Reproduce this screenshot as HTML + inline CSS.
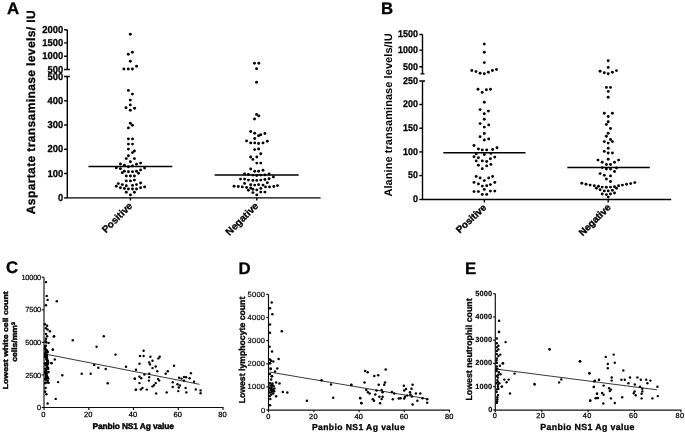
<!DOCTYPE html>
<html><head><meta charset="utf-8"><title>Figure</title>
<style>html,body{margin:0;padding:0;background:#fff;}svg{display:block;will-change:transform;filter:grayscale(1);}svg text{text-rendering:geometricPrecision;}</style>
</head><body>
<svg width="685" height="433" viewBox="0 0 685 433" font-family="Liberation Sans, sans-serif" fill="#000">
<defs><filter id="soft" x="0" y="0" width="100%" height="100%" filterUnits="userSpaceOnUse"><feGaussianBlur stdDeviation="0.4"/></filter></defs>
<rect width="685" height="433" fill="#fff"/>
<g filter="url(#soft)">
<text x="7" y="14" font-size="16.8" font-weight="bold" text-anchor="start" stroke="#000" stroke-width="0.3" >A</text>
<text x="381" y="14" font-size="16.8" font-weight="bold" text-anchor="start" stroke="#000" stroke-width="0.3" >B</text>
<text x="6" y="273" font-size="16.8" font-weight="bold" text-anchor="start" stroke="#000" stroke-width="0.3" >C</text>
<text x="238.5" y="274" font-size="16.8" font-weight="bold" text-anchor="start" stroke="#000" stroke-width="0.3" >D</text>
<text x="465" y="273.7" font-size="16.8" font-weight="bold" text-anchor="start" stroke="#000" stroke-width="0.3" >E</text>
<g stroke="#000" stroke-width="1.4" fill="none">
<path d="M67.3 29.7V69.5M64.1 29.7H67.3M64.1 42.9H67.3M64.1 56.3H67.3M64.1 69.5H69.8"/>
<path d="M67.3 76.5V197.9M64.1 76.5H69.8"/>
<path d="M64.1 100.8H67.3"/>
<path d="M64.1 125H67.3"/>
<path d="M64.1 149.3H67.3"/>
<path d="M64.1 173.5H67.3"/>
<path d="M64.1 197.9H67.3"/>
<path d="M66.6 197.9H320.6M130.4 197.9V200.4M256.8 197.9V200.4"/>
<path d="M88.5 166.6H172.3M214.6 175.1H298.7" stroke-width="1.5"/>
</g>
<text x="63.2" y="32.7" font-size="10.0" font-weight="bold" text-anchor="end" stroke="#000" stroke-width="0.3" textLength="20.9" lengthAdjust="spacingAndGlyphs">2000</text>
<text x="63.2" y="45.9" font-size="10.0" font-weight="bold" text-anchor="end" stroke="#000" stroke-width="0.3" textLength="20.9" lengthAdjust="spacingAndGlyphs">1500</text>
<text x="63.2" y="59.3" font-size="10.0" font-weight="bold" text-anchor="end" stroke="#000" stroke-width="0.3" textLength="20.9" lengthAdjust="spacingAndGlyphs">1000</text>
<text x="63.2" y="72.5" font-size="10.0" font-weight="bold" text-anchor="end" stroke="#000" stroke-width="0.3" textLength="15.7" lengthAdjust="spacingAndGlyphs">500</text>
<text x="63.2" y="79.5" font-size="10.0" font-weight="bold" text-anchor="end" stroke="#000" stroke-width="0.3" textLength="15.7" lengthAdjust="spacingAndGlyphs">500</text>
<text x="63.2" y="103.8" font-size="10.0" font-weight="bold" text-anchor="end" stroke="#000" stroke-width="0.3" textLength="15.7" lengthAdjust="spacingAndGlyphs">400</text>
<text x="63.2" y="128.0" font-size="10.0" font-weight="bold" text-anchor="end" stroke="#000" stroke-width="0.3" textLength="15.7" lengthAdjust="spacingAndGlyphs">300</text>
<text x="63.2" y="152.3" font-size="10.0" font-weight="bold" text-anchor="end" stroke="#000" stroke-width="0.3" textLength="15.7" lengthAdjust="spacingAndGlyphs">200</text>
<text x="63.2" y="176.5" font-size="10.0" font-weight="bold" text-anchor="end" stroke="#000" stroke-width="0.3" textLength="15.7" lengthAdjust="spacingAndGlyphs">100</text>
<text x="63.2" y="200.9" font-size="10.0" font-weight="bold" text-anchor="end" stroke="#000" stroke-width="0.3" textLength="5.2" lengthAdjust="spacingAndGlyphs">0</text>
<text x="0" y="0" font-size="12" font-weight="bold" text-anchor="start" stroke="#000" stroke-width="0.3" transform="translate(35.3,214.2) rotate(-90)" textLength="203.8">Aspartate transaminase levels/ IU</text>
<text x="0" y="0" font-size="10" font-weight="bold" text-anchor="end" stroke="#000" stroke-width="0.3" transform="translate(133,206.5) rotate(-45)">Positive</text>
<text x="0" y="0" font-size="10" font-weight="bold" text-anchor="end" stroke="#000" stroke-width="0.3" transform="translate(259,206.5) rotate(-45)">Negative</text>
<circle cx="130.3" cy="34.2" r="1.45"/><circle cx="132.4" cy="52.2" r="1.45"/><circle cx="128.3" cy="54.3" r="1.45"/><circle cx="130.3" cy="61.2" r="1.45"/><circle cx="136.6" cy="66.3" r="1.45"/><circle cx="123.9" cy="69.0" r="1.45"/><circle cx="128.3" cy="69.0" r="1.45"/><circle cx="132.4" cy="69.0" r="1.45"/><circle cx="128.4" cy="90.4" r="1.45"/><circle cx="132.4" cy="94.1" r="1.45"/><circle cx="130.3" cy="100.1" r="1.45"/><circle cx="130.3" cy="104.9" r="1.45"/><circle cx="126.0" cy="107.7" r="1.45"/><circle cx="134.6" cy="108.2" r="1.45"/><circle cx="130.3" cy="110.2" r="1.45"/><circle cx="130.3" cy="123.2" r="1.45"/><circle cx="132.4" cy="125.3" r="1.45"/><circle cx="128.4" cy="127.9" r="1.45"/><circle cx="128.4" cy="138.9" r="1.45"/><circle cx="132.5" cy="138.9" r="1.45"/><circle cx="128.4" cy="144.1" r="1.45"/><circle cx="132.5" cy="144.1" r="1.45"/><circle cx="128.4" cy="149.1" r="1.45"/><circle cx="134.4" cy="151.0" r="1.45"/><circle cx="132.5" cy="152.6" r="1.45"/><circle cx="128.4" cy="155.8" r="1.45"/><circle cx="126.3" cy="158.6" r="1.45"/><circle cx="134.4" cy="158.6" r="1.45"/><circle cx="130.4" cy="161.8" r="1.45"/><circle cx="120.4" cy="163.9" r="1.45"/><circle cx="140.6" cy="163.1" r="1.45"/><circle cx="124.4" cy="165.2" r="1.45"/><circle cx="136.5" cy="164.2" r="1.45"/><circle cx="132.5" cy="165.9" r="1.45"/><circle cx="128.4" cy="166.8" r="1.45"/><circle cx="116.3" cy="167.8" r="1.45"/><circle cx="144.6" cy="168.1" r="1.45"/><circle cx="120.4" cy="168.8" r="1.45"/><circle cx="140.6" cy="169.9" r="1.45"/><circle cx="124.4" cy="171.2" r="1.45"/><circle cx="128.4" cy="171.7" r="1.45"/><circle cx="132.5" cy="171.7" r="1.45"/><circle cx="136.5" cy="171.2" r="1.45"/><circle cx="122.3" cy="172.8" r="1.45"/><circle cx="138.5" cy="173.3" r="1.45"/><circle cx="126.3" cy="176.0" r="1.45"/><circle cx="130.4" cy="176.0" r="1.45"/><circle cx="134.4" cy="176.0" r="1.45"/><circle cx="126.3" cy="180.9" r="1.45"/><circle cx="130.4" cy="180.9" r="1.45"/><circle cx="134.4" cy="180.1" r="1.45"/><circle cx="118.3" cy="183.6" r="1.45"/><circle cx="140.6" cy="183.0" r="1.45"/><circle cx="122.3" cy="184.6" r="1.45"/><circle cx="126.3" cy="185.7" r="1.45"/><circle cx="132.5" cy="185.4" r="1.45"/><circle cx="136.5" cy="184.6" r="1.45"/><circle cx="116.3" cy="186.2" r="1.45"/><circle cx="144.6" cy="186.9" r="1.45"/><circle cx="120.4" cy="187.8" r="1.45"/><circle cx="124.4" cy="188.5" r="1.45"/><circle cx="128.4" cy="189.0" r="1.45"/><circle cx="132.5" cy="189.0" r="1.45"/><circle cx="140.6" cy="187.8" r="1.45"/><circle cx="136.5" cy="189.0" r="1.45"/><circle cx="126.3" cy="192.2" r="1.45"/><circle cx="134.4" cy="192.2" r="1.45"/><circle cx="130.4" cy="194.9" r="1.45"/>
<circle cx="254.5" cy="63.3" r="1.45"/><circle cx="258.8" cy="63.3" r="1.45"/><circle cx="256.6" cy="68.7" r="1.45"/><circle cx="256.6" cy="82.2" r="1.45"/><circle cx="256.6" cy="114.4" r="1.45"/><circle cx="258.8" cy="115.9" r="1.45"/><circle cx="254.5" cy="119.0" r="1.45"/><circle cx="250.7" cy="131.5" r="1.45"/><circle cx="254.7" cy="133.3" r="1.45"/><circle cx="264.9" cy="133.5" r="1.45"/><circle cx="260.8" cy="134.8" r="1.45"/><circle cx="258.6" cy="135.7" r="1.45"/><circle cx="254.7" cy="138.5" r="1.45"/><circle cx="246.6" cy="140.9" r="1.45"/><circle cx="267.3" cy="141.3" r="1.45"/><circle cx="250.7" cy="142.9" r="1.45"/><circle cx="254.7" cy="142.9" r="1.45"/><circle cx="258.6" cy="143.5" r="1.45"/><circle cx="263.0" cy="142.9" r="1.45"/><circle cx="254.7" cy="149.6" r="1.45"/><circle cx="258.6" cy="149.0" r="1.45"/><circle cx="260.8" cy="153.8" r="1.45"/><circle cx="250.7" cy="157.0" r="1.45"/><circle cx="256.8" cy="157.0" r="1.45"/><circle cx="252.9" cy="159.4" r="1.45"/><circle cx="256.8" cy="163.1" r="1.45"/><circle cx="260.8" cy="163.1" r="1.45"/><circle cx="250.7" cy="169.0" r="1.45"/><circle cx="254.7" cy="171.2" r="1.45"/><circle cx="258.6" cy="171.2" r="1.45"/><circle cx="263.0" cy="170.3" r="1.45"/><circle cx="244.6" cy="174.0" r="1.45"/><circle cx="248.4" cy="174.5" r="1.45"/><circle cx="252.9" cy="175.1" r="1.45"/><circle cx="256.8" cy="175.5" r="1.45"/><circle cx="260.8" cy="175.1" r="1.45"/><circle cx="264.9" cy="174.9" r="1.45"/><circle cx="269.1" cy="174.0" r="1.45"/><circle cx="273.4" cy="176.9" r="1.45"/><circle cx="240.5" cy="179.1" r="1.45"/><circle cx="244.6" cy="179.1" r="1.45"/><circle cx="248.4" cy="180.1" r="1.45"/><circle cx="252.9" cy="180.4" r="1.45"/><circle cx="256.8" cy="180.4" r="1.45"/><circle cx="260.8" cy="180.1" r="1.45"/><circle cx="264.9" cy="179.5" r="1.45"/><circle cx="269.1" cy="178.8" r="1.45"/><circle cx="244.6" cy="183.4" r="1.45"/><circle cx="250.7" cy="184.7" r="1.45"/><circle cx="254.7" cy="185.1" r="1.45"/><circle cx="258.6" cy="184.7" r="1.45"/><circle cx="263.0" cy="185.1" r="1.45"/><circle cx="267.3" cy="182.8" r="1.45"/><circle cx="234.0" cy="186.2" r="1.45"/><circle cx="238.3" cy="186.5" r="1.45"/><circle cx="242.3" cy="186.9" r="1.45"/><circle cx="246.6" cy="187.5" r="1.45"/><circle cx="250.7" cy="188.0" r="1.45"/><circle cx="265.5" cy="186.9" r="1.45"/><circle cx="269.5" cy="186.9" r="1.45"/><circle cx="273.8" cy="186.5" r="1.45"/><circle cx="277.5" cy="185.6" r="1.45"/><circle cx="248.4" cy="190.2" r="1.45"/><circle cx="252.9" cy="189.3" r="1.45"/><circle cx="256.8" cy="189.9" r="1.45"/><circle cx="260.8" cy="188.4" r="1.45"/><circle cx="252.9" cy="192.6" r="1.45"/><circle cx="260.8" cy="192.1" r="1.45"/><circle cx="264.9" cy="192.1" r="1.45"/><circle cx="256.8" cy="194.9" r="1.45"/>
<g stroke="#000" stroke-width="1.4" fill="none">
<path d="M422.5 34.5V73.9M419.3 34.5H422.5M419.3 50.1H422.5M419.3 66.7H422.5M420.5 73.9H424.5"/>
<path d="M422.5 81V199.5M419.3 81H425.0"/>
<path d="M419.3 104.5H422.5"/>
<path d="M419.3 128.2H422.5"/>
<path d="M419.3 151.9H422.5"/>
<path d="M419.3 175.6H422.5"/>
<path d="M419.3 199.5H422.5"/>
<path d="M421.8 199.5H671.2M484.3 199.5V202.4M608.2 199.5V202.4"/>
<path d="M443.3 152.8H525.5M567.3 167.6H649.8" stroke-width="1.5"/>
</g>
<text x="418.0" y="37.3" font-size="9.8" font-weight="bold" text-anchor="end" stroke="#000" stroke-width="0.28" textLength="19.9" lengthAdjust="spacingAndGlyphs">1500</text>
<text x="418.0" y="52.9" font-size="9.8" font-weight="bold" text-anchor="end" stroke="#000" stroke-width="0.28" textLength="19.9" lengthAdjust="spacingAndGlyphs">1000</text>
<text x="418.0" y="69.5" font-size="9.8" font-weight="bold" text-anchor="end" stroke="#000" stroke-width="0.28" textLength="14.9" lengthAdjust="spacingAndGlyphs">500</text>
<text x="418.0" y="83.8" font-size="9.8" font-weight="bold" text-anchor="end" stroke="#000" stroke-width="0.28" textLength="14.9" lengthAdjust="spacingAndGlyphs">250</text>
<text x="418.0" y="107.3" font-size="9.8" font-weight="bold" text-anchor="end" stroke="#000" stroke-width="0.28" textLength="14.9" lengthAdjust="spacingAndGlyphs">200</text>
<text x="418.0" y="131.0" font-size="9.8" font-weight="bold" text-anchor="end" stroke="#000" stroke-width="0.28" textLength="14.9" lengthAdjust="spacingAndGlyphs">150</text>
<text x="418.0" y="154.70000000000002" font-size="9.8" font-weight="bold" text-anchor="end" stroke="#000" stroke-width="0.28" textLength="14.9" lengthAdjust="spacingAndGlyphs">100</text>
<text x="418.0" y="178.4" font-size="9.8" font-weight="bold" text-anchor="end" stroke="#000" stroke-width="0.28" textLength="9.9" lengthAdjust="spacingAndGlyphs">50</text>
<text x="418.0" y="202.3" font-size="9.8" font-weight="bold" text-anchor="end" stroke="#000" stroke-width="0.28" textLength="5.0" lengthAdjust="spacingAndGlyphs">0</text>
<text x="0" y="0" font-size="11" font-weight="bold" text-anchor="start" stroke="#000" stroke-width="0" transform="translate(392.2,196.6) rotate(-90)" textLength="163.4">Alanine transaminase levels/IU</text>
<text x="0" y="0" font-size="9.7" font-weight="bold" text-anchor="end" stroke="#000" stroke-width="0.4" transform="translate(487,208.3) rotate(-43)">Positive</text>
<text x="0" y="0" font-size="9.7" font-weight="bold" text-anchor="end" stroke="#000" stroke-width="0.4" transform="translate(611.3,208) rotate(-45)">Negative</text>
<circle cx="484.3" cy="44.1" r="1.45"/><circle cx="484.3" cy="52.2" r="1.45"/><circle cx="484.3" cy="62.6" r="1.45"/><circle cx="471.8" cy="70.5" r="1.45"/><circle cx="476.0" cy="71.6" r="1.45"/><circle cx="480.1" cy="73.2" r="1.45"/><circle cx="484.3" cy="73.7" r="1.45"/><circle cx="488.4" cy="72.2" r="1.45"/><circle cx="492.4" cy="70.5" r="1.45"/><circle cx="496.5" cy="69.5" r="1.45"/><circle cx="478.0" cy="89.3" r="1.45"/><circle cx="486.4" cy="89.7" r="1.45"/><circle cx="490.5" cy="89.3" r="1.45"/><circle cx="482.2" cy="92.4" r="1.45"/><circle cx="484.3" cy="102.3" r="1.45"/><circle cx="480.1" cy="109.6" r="1.45"/><circle cx="488.4" cy="111.1" r="1.45"/><circle cx="484.3" cy="113.8" r="1.45"/><circle cx="484.3" cy="119.2" r="1.45"/><circle cx="480.1" cy="123.6" r="1.45"/><circle cx="488.7" cy="124.9" r="1.45"/><circle cx="484.3" cy="127.1" r="1.45"/><circle cx="484.3" cy="133.5" r="1.45"/><circle cx="480.1" cy="136.8" r="1.45"/><circle cx="488.7" cy="138.9" r="1.45"/><circle cx="484.3" cy="140.0" r="1.45"/><circle cx="474.0" cy="145.5" r="1.45"/><circle cx="478.4" cy="149.0" r="1.45"/><circle cx="482.3" cy="149.9" r="1.45"/><circle cx="486.7" cy="149.9" r="1.45"/><circle cx="492.6" cy="149.5" r="1.45"/><circle cx="497.0" cy="147.7" r="1.45"/><circle cx="476.2" cy="153.9" r="1.45"/><circle cx="484.3" cy="154.5" r="1.45"/><circle cx="490.9" cy="153.4" r="1.45"/><circle cx="474.0" cy="156.7" r="1.45"/><circle cx="478.4" cy="157.8" r="1.45"/><circle cx="494.8" cy="157.1" r="1.45"/><circle cx="490.4" cy="158.7" r="1.45"/><circle cx="482.3" cy="160.9" r="1.45"/><circle cx="486.7" cy="161.5" r="1.45"/><circle cx="476.2" cy="160.9" r="1.45"/><circle cx="478.4" cy="165.3" r="1.45"/><circle cx="486.7" cy="165.9" r="1.45"/><circle cx="490.9" cy="164.4" r="1.45"/><circle cx="482.3" cy="168.8" r="1.45"/><circle cx="476.2" cy="176.4" r="1.45"/><circle cx="492.6" cy="176.4" r="1.45"/><circle cx="480.1" cy="178.0" r="1.45"/><circle cx="488.7" cy="178.0" r="1.45"/><circle cx="484.3" cy="180.6" r="1.45"/><circle cx="474.0" cy="182.4" r="1.45"/><circle cx="494.8" cy="182.4" r="1.45"/><circle cx="478.4" cy="183.9" r="1.45"/><circle cx="490.4" cy="184.6" r="1.45"/><circle cx="482.3" cy="186.1" r="1.45"/><circle cx="486.7" cy="185.7" r="1.45"/><circle cx="484.3" cy="189.4" r="1.45"/><circle cx="474.0" cy="191.6" r="1.45"/><circle cx="478.4" cy="191.6" r="1.45"/><circle cx="490.4" cy="191.1" r="1.45"/><circle cx="494.8" cy="191.1" r="1.45"/><circle cx="482.3" cy="194.4" r="1.45"/><circle cx="486.7" cy="194.4" r="1.45"/>
<circle cx="608.2" cy="60.8" r="1.45"/><circle cx="608.2" cy="67.4" r="1.45"/><circle cx="600.1" cy="71.2" r="1.45"/><circle cx="604.3" cy="72.8" r="1.45"/><circle cx="608.2" cy="73.7" r="1.45"/><circle cx="612.4" cy="72.2" r="1.45"/><circle cx="616.5" cy="70.6" r="1.45"/><circle cx="606.4" cy="87.4" r="1.45"/><circle cx="610.5" cy="87.4" r="1.45"/><circle cx="608.2" cy="91.4" r="1.45"/><circle cx="608.2" cy="97.2" r="1.45"/><circle cx="604.3" cy="113.2" r="1.45"/><circle cx="612.4" cy="113.2" r="1.45"/><circle cx="608.2" cy="116.5" r="1.45"/><circle cx="608.2" cy="121.7" r="1.45"/><circle cx="606.4" cy="124.4" r="1.45"/><circle cx="610.5" cy="128.5" r="1.45"/><circle cx="608.2" cy="133.3" r="1.45"/><circle cx="606.4" cy="136.2" r="1.45"/><circle cx="610.5" cy="139.5" r="1.45"/><circle cx="604.3" cy="141.6" r="1.45"/><circle cx="612.4" cy="141.6" r="1.45"/><circle cx="608.2" cy="143.1" r="1.45"/><circle cx="608.2" cy="148.3" r="1.45"/><circle cx="604.3" cy="151.4" r="1.45"/><circle cx="608.2" cy="153.0" r="1.45"/><circle cx="612.4" cy="153.0" r="1.45"/><circle cx="608.2" cy="159.3" r="1.45"/><circle cx="598.0" cy="160.1" r="1.45"/><circle cx="618.6" cy="160.1" r="1.45"/><circle cx="602.2" cy="162.2" r="1.45"/><circle cx="614.5" cy="162.2" r="1.45"/><circle cx="606.4" cy="164.5" r="1.45"/><circle cx="610.5" cy="164.5" r="1.45"/><circle cx="602.2" cy="167.6" r="1.45"/><circle cx="616.5" cy="168.0" r="1.45"/><circle cx="606.4" cy="169.0" r="1.45"/><circle cx="610.5" cy="169.1" r="1.45"/><circle cx="614.5" cy="171.5" r="1.45"/><circle cx="600.1" cy="173.6" r="1.45"/><circle cx="604.3" cy="175.3" r="1.45"/><circle cx="610.5" cy="175.9" r="1.45"/><circle cx="606.4" cy="179.0" r="1.45"/><circle cx="610.5" cy="181.5" r="1.45"/><circle cx="581.8" cy="183.2" r="1.45"/><circle cx="586.0" cy="184.2" r="1.45"/><circle cx="590.1" cy="185.1" r="1.45"/><circle cx="594.3" cy="185.7" r="1.45"/><circle cx="598.5" cy="186.3" r="1.45"/><circle cx="602.2" cy="187.1" r="1.45"/><circle cx="606.4" cy="187.3" r="1.45"/><circle cx="610.5" cy="187.1" r="1.45"/><circle cx="614.5" cy="186.7" r="1.45"/><circle cx="618.6" cy="185.7" r="1.45"/><circle cx="622.4" cy="185.1" r="1.45"/><circle cx="626.5" cy="184.2" r="1.45"/><circle cx="630.7" cy="183.6" r="1.45"/><circle cx="634.8" cy="182.6" r="1.45"/><circle cx="596.4" cy="188.2" r="1.45"/><circle cx="600.1" cy="189.8" r="1.45"/><circle cx="604.3" cy="190.9" r="1.45"/><circle cx="608.2" cy="190.9" r="1.45"/><circle cx="612.4" cy="190.3" r="1.45"/><circle cx="616.5" cy="188.2" r="1.45"/><circle cx="602.2" cy="194.0" r="1.45"/><circle cx="606.4" cy="194.6" r="1.45"/><circle cx="610.5" cy="194.0" r="1.45"/><circle cx="614.5" cy="193.0" r="1.45"/><circle cx="608.2" cy="197.1" r="1.45"/>
<g stroke="#111" stroke-width="1.15" fill="none">
<path d="M44 277.2V407.5"/>
<path d="M41.7 277.2H44"/>
<path d="M41.7 309.8H44"/>
<path d="M41.7 342.4H44"/>
<path d="M41.7 374.9H44"/>
<path d="M41.7 407.5H44"/>
<path d="M43.5 407.5H223.5"/>
<path d="M44 407.5V410"/>
<path d="M88.8 407.5V410"/>
<path d="M133.5 407.5V410"/>
<path d="M178.3 407.5V410"/>
<path d="M223 407.5V410"/>
<path d="M45 354L199.5 384.3" stroke="#222" stroke-width="0.9"/>
</g>
<text x="41.0" y="279.8" font-size="7.4" font-weight="normal" text-anchor="end" stroke="#000" stroke-width="0.2" letter-spacing="-0.2">10000</text>
<text x="41.0" y="312.40000000000003" font-size="7.4" font-weight="normal" text-anchor="end" stroke="#000" stroke-width="0.2" letter-spacing="-0.2">7500</text>
<text x="41.0" y="345.0" font-size="7.4" font-weight="normal" text-anchor="end" stroke="#000" stroke-width="0.2" letter-spacing="-0.2">5000</text>
<text x="41.0" y="377.5" font-size="7.4" font-weight="normal" text-anchor="end" stroke="#000" stroke-width="0.2" letter-spacing="-0.2">2500</text>
<text x="41.0" y="410.1" font-size="7.4" font-weight="normal" text-anchor="end" stroke="#000" stroke-width="0.2" letter-spacing="-0.2">0</text>
<text x="43.5" y="417.4" font-size="7.5" font-weight="normal" text-anchor="middle" stroke="#000" stroke-width="0.25" letter-spacing="0.1">0</text>
<text x="88.2" y="417.4" font-size="7.5" font-weight="normal" text-anchor="middle" stroke="#000" stroke-width="0.25" letter-spacing="0.1">20</text>
<text x="133" y="417.4" font-size="7.5" font-weight="normal" text-anchor="middle" stroke="#000" stroke-width="0.25" letter-spacing="0.1">40</text>
<text x="177.7" y="417.4" font-size="7.5" font-weight="normal" text-anchor="middle" stroke="#000" stroke-width="0.25" letter-spacing="0.1">60</text>
<text x="222.5" y="417.4" font-size="7.5" font-weight="normal" text-anchor="middle" stroke="#000" stroke-width="0.25" letter-spacing="0.1">80</text>
<text x="133.2" y="429.2" font-size="8.4" font-weight="bold" text-anchor="middle" stroke="#000" stroke-width="0.42" textLength="81.6">Panbio NS1 Ag value</text>
<text x="0" y="0" font-size="7.2" font-weight="bold" text-anchor="middle" stroke="#000" stroke-width="0.4" transform="translate(7.5,340.3) rotate(-90)" textLength="98" lengthAdjust="spacingAndGlyphs">Lowest white cell count</text>
<text x="0" y="0" font-size="7.6" font-weight="bold" text-anchor="middle" stroke="#000" stroke-width="0.4" transform="translate(17.3,341.8) rotate(-90)" textLength="39.8" lengthAdjust="spacingAndGlyphs">cells/mm<tspan font-size="5.2" dy="-2.2">3</tspan></text>
<circle cx="46.0" cy="282.1" r="1.22"/><circle cx="46.7" cy="295.9" r="1.22"/><circle cx="47.6" cy="299.9" r="1.22"/><circle cx="56.8" cy="301.2" r="1.22"/><circle cx="46.0" cy="305.3" r="1.22"/><circle cx="45.0" cy="324.2" r="1.22"/><circle cx="47.1" cy="325.8" r="1.22"/><circle cx="46.0" cy="328.3" r="1.22"/><circle cx="47.6" cy="329.5" r="1.22"/><circle cx="49.9" cy="331.2" r="1.22"/><circle cx="46.0" cy="333.9" r="1.22"/><circle cx="47.1" cy="336.3" r="1.22"/><circle cx="54.1" cy="336.3" r="1.22"/><circle cx="46.0" cy="338.8" r="1.22"/><circle cx="53.8" cy="336.5" r="1.22"/><circle cx="72.8" cy="340.2" r="1.22"/><circle cx="52.9" cy="349.4" r="1.22"/><circle cx="54.8" cy="359.5" r="1.22"/><circle cx="51.6" cy="363.2" r="1.22"/><circle cx="62.3" cy="375.2" r="1.22"/><circle cx="81.7" cy="373.8" r="1.22"/><circle cx="90.7" cy="373.8" r="1.22"/><circle cx="58.1" cy="382.1" r="1.22"/><circle cx="55.7" cy="398.9" r="1.22"/><circle cx="47.6" cy="403.5" r="1.22"/><circle cx="45.2" cy="391.8" r="1.22"/><circle cx="46.4" cy="394.2" r="1.22"/><circle cx="103.8" cy="336.3" r="1.22"/><circle cx="96.6" cy="346.8" r="1.22"/><circle cx="115.5" cy="354.6" r="1.22"/><circle cx="94.2" cy="364.9" r="1.22"/><circle cx="98.3" cy="367.7" r="1.22"/><circle cx="105.7" cy="369.0" r="1.22"/><circle cx="126.0" cy="366.8" r="1.22"/><circle cx="107.7" cy="383.2" r="1.22"/><circle cx="143.6" cy="350.7" r="1.22"/><circle cx="140.0" cy="356.0" r="1.22"/><circle cx="143.6" cy="356.0" r="1.22"/><circle cx="150.4" cy="356.8" r="1.22"/><circle cx="159.7" cy="356.8" r="1.22"/><circle cx="158.4" cy="358.4" r="1.22"/><circle cx="152.5" cy="360.8" r="1.22"/><circle cx="149.2" cy="362.5" r="1.22"/><circle cx="150.0" cy="364.4" r="1.22"/><circle cx="139.5" cy="363.8" r="1.22"/><circle cx="155.7" cy="366.5" r="1.22"/><circle cx="152.5" cy="368.1" r="1.22"/><circle cx="174.0" cy="365.7" r="1.22"/><circle cx="136.0" cy="369.7" r="1.22"/><circle cx="157.3" cy="371.3" r="1.22"/><circle cx="167.8" cy="371.3" r="1.22"/><circle cx="165.7" cy="373.8" r="1.22"/><circle cx="190.9" cy="373.3" r="1.22"/><circle cx="149.2" cy="373.8" r="1.22"/><circle cx="144.4" cy="374.6" r="1.22"/><circle cx="139.5" cy="376.7" r="1.22"/><circle cx="141.2" cy="378.3" r="1.22"/><circle cx="134.7" cy="378.6" r="1.22"/><circle cx="149.2" cy="377.3" r="1.22"/><circle cx="148.9" cy="380.6" r="1.22"/><circle cx="158.1" cy="378.9" r="1.22"/><circle cx="159.2" cy="380.6" r="1.22"/><circle cx="179.1" cy="377.8" r="1.22"/><circle cx="181.5" cy="378.6" r="1.22"/><circle cx="184.0" cy="377.0" r="1.22"/><circle cx="186.1" cy="377.3" r="1.22"/><circle cx="189.6" cy="378.3" r="1.22"/><circle cx="184.0" cy="380.6" r="1.22"/><circle cx="194.1" cy="381.8" r="1.22"/><circle cx="172.7" cy="382.2" r="1.22"/><circle cx="139.5" cy="383.1" r="1.22"/><circle cx="155.7" cy="383.1" r="1.22"/><circle cx="154.1" cy="385.1" r="1.22"/><circle cx="152.5" cy="386.4" r="1.22"/><circle cx="177.5" cy="384.3" r="1.22"/><circle cx="179.9" cy="385.4" r="1.22"/><circle cx="178.8" cy="387.5" r="1.22"/><circle cx="172.7" cy="387.0" r="1.22"/><circle cx="185.6" cy="388.0" r="1.22"/><circle cx="142.4" cy="388.0" r="1.22"/><circle cx="140.8" cy="389.4" r="1.22"/><circle cx="136.0" cy="389.6" r="1.22"/><circle cx="146.8" cy="389.6" r="1.22"/><circle cx="178.3" cy="391.1" r="1.22"/><circle cx="166.7" cy="392.4" r="1.22"/><circle cx="156.2" cy="393.5" r="1.22"/><circle cx="186.4" cy="392.4" r="1.22"/><circle cx="195.8" cy="389.4" r="1.22"/><circle cx="200.6" cy="390.4" r="1.22"/><circle cx="200.6" cy="393.2" r="1.22"/><circle cx="135.8" cy="389.7" r="1.22"/><circle cx="134.9" cy="378.8" r="1.22"/><circle cx="45.5" cy="341.5" r="1.22"/><circle cx="46.0" cy="341.7" r="1.22"/><circle cx="45.9" cy="345.7" r="1.22"/><circle cx="45.1" cy="348.1" r="1.22"/><circle cx="45.1" cy="348.3" r="1.22"/><circle cx="45.1" cy="345.9" r="1.22"/><circle cx="45.7" cy="354.3" r="1.22"/><circle cx="45.2" cy="349.2" r="1.22"/><circle cx="46.0" cy="357.5" r="1.22"/><circle cx="45.9" cy="353.0" r="1.22"/><circle cx="46.6" cy="350.5" r="1.22"/><circle cx="45.9" cy="379.2" r="1.22"/><circle cx="45.3" cy="354.9" r="1.22"/><circle cx="47.8" cy="360.5" r="1.22"/><circle cx="47.0" cy="356.1" r="1.22"/><circle cx="46.2" cy="371.7" r="1.22"/><circle cx="45.1" cy="368.6" r="1.22"/><circle cx="45.6" cy="352.0" r="1.22"/><circle cx="46.4" cy="373.1" r="1.22"/><circle cx="47.0" cy="360.7" r="1.22"/><circle cx="46.0" cy="365.4" r="1.22"/><circle cx="47.4" cy="377.0" r="1.22"/><circle cx="47.0" cy="358.3" r="1.22"/><circle cx="48.1" cy="367.9" r="1.22"/><circle cx="45.9" cy="374.8" r="1.22"/><circle cx="45.3" cy="383.3" r="1.22"/><circle cx="47.6" cy="364.2" r="1.22"/><circle cx="46.7" cy="355.2" r="1.22"/><circle cx="47.3" cy="351.3" r="1.22"/><circle cx="47.0" cy="376.0" r="1.22"/><circle cx="46.0" cy="379.8" r="1.22"/><circle cx="47.0" cy="373.6" r="1.22"/><circle cx="46.5" cy="369.7" r="1.22"/><circle cx="48.3" cy="378.6" r="1.22"/><circle cx="47.3" cy="366.1" r="1.22"/><circle cx="47.4" cy="352.1" r="1.22"/><circle cx="48.5" cy="372.0" r="1.22"/><circle cx="45.9" cy="377.9" r="1.22"/><circle cx="47.3" cy="363.1" r="1.22"/><circle cx="46.6" cy="350.8" r="1.22"/><circle cx="45.3" cy="355.7" r="1.22"/><circle cx="47.7" cy="352.0" r="1.22"/><circle cx="45.8" cy="354.4" r="1.22"/><circle cx="48.0" cy="363.3" r="1.22"/><circle cx="46.5" cy="352.7" r="1.22"/><circle cx="48.1" cy="368.7" r="1.22"/><circle cx="48.0" cy="377.9" r="1.22"/><circle cx="46.4" cy="359.5" r="1.22"/><circle cx="48.1" cy="362.2" r="1.22"/><circle cx="45.4" cy="382.6" r="1.22"/><circle cx="45.7" cy="356.0" r="1.22"/><circle cx="46.6" cy="357.9" r="1.22"/><circle cx="45.8" cy="370.0" r="1.22"/><circle cx="46.4" cy="350.1" r="1.22"/><circle cx="46.9" cy="362.6" r="1.22"/><circle cx="47.4" cy="382.4" r="1.22"/><circle cx="47.1" cy="367.5" r="1.22"/><circle cx="45.1" cy="373.0" r="1.22"/><circle cx="47.7" cy="380.6" r="1.22"/><circle cx="45.9" cy="376.7" r="1.22"/><circle cx="45.4" cy="364.4" r="1.22"/><circle cx="45.0" cy="371.7" r="1.22"/><circle cx="45.0" cy="354.1" r="1.22"/><circle cx="45.2" cy="357.0" r="1.22"/><circle cx="45.3" cy="353.6" r="1.22"/><circle cx="44.9" cy="356.7" r="1.22"/><circle cx="45.0" cy="363.3" r="1.22"/><circle cx="44.9" cy="379.1" r="1.22"/><circle cx="45.6" cy="356.6" r="1.22"/><circle cx="48.6" cy="342.9" r="1.22"/><circle cx="46.3" cy="342.5" r="1.22"/><circle cx="52.8" cy="349.7" r="1.22"/><circle cx="51.4" cy="362.9" r="1.22"/><circle cx="48.6" cy="382.8" r="1.22"/><circle cx="45.6" cy="388.0" r="1.22"/>
<g stroke="#111" stroke-width="1.15" fill="none">
<path d="M268.5 294.4V410.0"/>
<path d="M266.3 294.4H268.5"/>
<path d="M266.3 317.5H268.5"/>
<path d="M266.3 340.6H268.5"/>
<path d="M266.3 363.8H268.5"/>
<path d="M266.3 386.9H268.5"/>
<path d="M266.3 410.0H268.5"/>
<path d="M267.9 410.0H449.9" stroke-width="1.25"/>
<path d="M268.5 410.0V412.2"/>
<path d="M313.8 410.0V412.2"/>
<path d="M359.1 410.0V412.2"/>
<path d="M404.3 410.0V412.2"/>
<path d="M449.4 410.0V412.2"/>
<path d="M269.5 372L427.6 398.9" stroke="#222" stroke-width="0.9"/>
</g>
<text x="265.3" y="296.9" font-size="7.5" font-weight="normal" text-anchor="end" stroke="#000" stroke-width="0.2" letter-spacing="0.25">5000</text>
<text x="265.3" y="320.02" font-size="7.5" font-weight="normal" text-anchor="end" stroke="#000" stroke-width="0.2" letter-spacing="0.25">4000</text>
<text x="265.3" y="343.14" font-size="7.5" font-weight="normal" text-anchor="end" stroke="#000" stroke-width="0.2" letter-spacing="0.25">3000</text>
<text x="265.3" y="366.26" font-size="7.5" font-weight="normal" text-anchor="end" stroke="#000" stroke-width="0.2" letter-spacing="0.25">2000</text>
<text x="265.3" y="389.38" font-size="7.5" font-weight="normal" text-anchor="end" stroke="#000" stroke-width="0.2" letter-spacing="0.25">1000</text>
<text x="265.3" y="412.5" font-size="7.5" font-weight="normal" text-anchor="end" stroke="#000" stroke-width="0.2" letter-spacing="0.25">0</text>
<text x="268.3" y="419.0" font-size="7.4" font-weight="normal" text-anchor="middle" stroke="#000" stroke-width="0.25" letter-spacing="0.2">0</text>
<text x="313.4" y="419.0" font-size="7.4" font-weight="normal" text-anchor="middle" stroke="#000" stroke-width="0.25" letter-spacing="0.2">20</text>
<text x="358.8" y="419.0" font-size="7.4" font-weight="normal" text-anchor="middle" stroke="#000" stroke-width="0.25" letter-spacing="0.2">40</text>
<text x="404" y="419.0" font-size="7.4" font-weight="normal" text-anchor="middle" stroke="#000" stroke-width="0.25" letter-spacing="0.2">60</text>
<text x="449.2" y="419.0" font-size="7.4" font-weight="normal" text-anchor="middle" stroke="#000" stroke-width="0.25" letter-spacing="0.2">80</text>
<text x="358.5" y="429.5" font-size="8.6" font-weight="bold" text-anchor="middle" stroke="#000" stroke-width="0.3" letter-spacing="0.4">Panbio NS1 Ag value</text>
<text x="0" y="0" font-size="8.6" font-weight="bold" text-anchor="middle" stroke="#000" stroke-width="0.35" transform="translate(245.2,350) rotate(-90)" letter-spacing="0.05">Lowest lymphocyte count</text>
<circle cx="271.7" cy="302.5" r="1.25"/><circle cx="270.0" cy="308.3" r="1.25"/><circle cx="272.4" cy="314.2" r="1.25"/><circle cx="270.0" cy="324.6" r="1.25"/><circle cx="270.0" cy="332.7" r="1.25"/><circle cx="281.8" cy="331.3" r="1.25"/><circle cx="269.6" cy="346.8" r="1.25"/><circle cx="272.0" cy="351.6" r="1.25"/><circle cx="278.6" cy="359.1" r="1.25"/><circle cx="270.0" cy="359.6" r="1.25"/><circle cx="273.3" cy="361.6" r="1.25"/><circle cx="270.0" cy="363.3" r="1.25"/><circle cx="277.3" cy="368.6" r="1.25"/><circle cx="270.6" cy="368.6" r="1.25"/><circle cx="275.0" cy="371.6" r="1.25"/><circle cx="270.0" cy="374.1" r="1.25"/><circle cx="272.0" cy="376.2" r="1.25"/><circle cx="271.1" cy="379.6" r="1.25"/><circle cx="276.1" cy="382.4" r="1.25"/><circle cx="279.5" cy="383.6" r="1.25"/><circle cx="321.5" cy="380.2" r="1.25"/><circle cx="331.0" cy="384.6" r="1.25"/><circle cx="282.8" cy="391.9" r="1.25"/><circle cx="287.3" cy="392.4" r="1.25"/><circle cx="276.1" cy="396.2" r="1.25"/><circle cx="270.3" cy="399.0" r="1.25"/><circle cx="306.9" cy="400.7" r="1.25"/><circle cx="270.0" cy="405.3" r="1.25"/><circle cx="351.2" cy="384.9" r="1.25"/><circle cx="333.2" cy="397.7" r="1.25"/><circle cx="360.2" cy="398.2" r="1.25"/><circle cx="361.2" cy="402.9" r="1.25"/><circle cx="385.7" cy="369.4" r="1.25"/><circle cx="365.1" cy="370.9" r="1.25"/><circle cx="367.7" cy="372.3" r="1.25"/><circle cx="374.3" cy="376.0" r="1.25"/><circle cx="378.2" cy="375.3" r="1.25"/><circle cx="364.5" cy="382.4" r="1.25"/><circle cx="385.0" cy="382.4" r="1.25"/><circle cx="384.2" cy="384.7" r="1.25"/><circle cx="378.7" cy="384.7" r="1.25"/><circle cx="351.4" cy="384.7" r="1.25"/><circle cx="403.8" cy="385.8" r="1.25"/><circle cx="412.6" cy="384.7" r="1.25"/><circle cx="406.0" cy="389.1" r="1.25"/><circle cx="404.2" cy="390.6" r="1.25"/><circle cx="411.5" cy="388.7" r="1.25"/><circle cx="366.3" cy="390.1" r="1.25"/><circle cx="368.0" cy="392.3" r="1.25"/><circle cx="369.6" cy="393.5" r="1.25"/><circle cx="376.5" cy="390.6" r="1.25"/><circle cx="381.6" cy="390.1" r="1.25"/><circle cx="382.6" cy="392.3" r="1.25"/><circle cx="391.8" cy="392.0" r="1.25"/><circle cx="394.3" cy="393.5" r="1.25"/><circle cx="410.0" cy="392.3" r="1.25"/><circle cx="410.4" cy="394.5" r="1.25"/><circle cx="415.9" cy="393.5" r="1.25"/><circle cx="420.3" cy="393.5" r="1.25"/><circle cx="375.3" cy="394.5" r="1.25"/><circle cx="407.2" cy="395.5" r="1.25"/><circle cx="405.0" cy="396.7" r="1.25"/><circle cx="404.2" cy="398.5" r="1.25"/><circle cx="411.8" cy="396.4" r="1.25"/><circle cx="379.4" cy="396.7" r="1.25"/><circle cx="382.6" cy="396.7" r="1.25"/><circle cx="381.6" cy="398.9" r="1.25"/><circle cx="360.1" cy="397.9" r="1.25"/><circle cx="372.8" cy="399.3" r="1.25"/><circle cx="374.0" cy="400.8" r="1.25"/><circle cx="392.8" cy="399.3" r="1.25"/><circle cx="398.8" cy="398.5" r="1.25"/><circle cx="400.6" cy="398.2" r="1.25"/><circle cx="422.5" cy="398.2" r="1.25"/><circle cx="427.2" cy="399.3" r="1.25"/><circle cx="417.4" cy="400.8" r="1.25"/><circle cx="361.5" cy="403.3" r="1.25"/><circle cx="380.1" cy="403.3" r="1.25"/><circle cx="412.6" cy="404.5" r="1.25"/><circle cx="427.2" cy="402.8" r="1.25"/><circle cx="270.0" cy="383.3" r="1.25"/><circle cx="272.4" cy="383.6" r="1.25"/><circle cx="270.4" cy="385.6" r="1.25"/><circle cx="273.6" cy="386.0" r="1.25"/><circle cx="271.6" cy="387.2" r="1.25"/><circle cx="269.7" cy="388.0" r="1.25"/><circle cx="274.4" cy="388.4" r="1.25"/><circle cx="272.6" cy="389.4" r="1.25"/><circle cx="270.6" cy="390.2" r="1.25"/><circle cx="274.2" cy="391.2" r="1.25"/><circle cx="271.8" cy="391.8" r="1.25"/><circle cx="269.9" cy="392.6" r="1.25"/><circle cx="273.2" cy="393.6" r="1.25"/><circle cx="271.2" cy="394.4" r="1.25"/><circle cx="272.2" cy="385.0" r="1.25"/><circle cx="270.9" cy="388.9" r="1.25"/><circle cx="273.4" cy="390.9" r="1.25"/><circle cx="271.0" cy="360.8" r="1.25"/><circle cx="269.8" cy="363.3" r="1.25"/><circle cx="270.7" cy="369.0" r="1.25"/><circle cx="271.8" cy="376.3" r="1.25"/><circle cx="269.7" cy="395.9" r="1.25"/>
<g stroke="#111" stroke-width="1.15" fill="none">
<path d="M495.3 293.7V410.0"/>
<path d="M493.1 293.7H495.3"/>
<path d="M493.1 317.0H495.3"/>
<path d="M493.1 340.2H495.3"/>
<path d="M493.1 363.5H495.3"/>
<path d="M493.1 386.7H495.3"/>
<path d="M493.1 410.0H495.3"/>
<path d="M494.7 410.0H681.4" stroke-width="1.25"/>
<path d="M495.3 410.0V412.2"/>
<path d="M541.7 410.0V412.2"/>
<path d="M588.1 410.0V412.2"/>
<path d="M634.5 410.0V412.2"/>
<path d="M680.9 410.0V412.2"/>
<path d="M497.8 369.3L657 389.8" stroke="#222" stroke-width="0.9"/>
</g>
<text x="492.4" y="295.7" font-size="7.4" font-weight="bold" text-anchor="end" stroke="#000" stroke-width="0.15" letter-spacing="0.15">5000</text>
<text x="492.4" y="318.96" font-size="7.4" font-weight="bold" text-anchor="end" stroke="#000" stroke-width="0.15" letter-spacing="0.15">4000</text>
<text x="492.4" y="342.21999999999997" font-size="7.4" font-weight="bold" text-anchor="end" stroke="#000" stroke-width="0.15" letter-spacing="0.15">3000</text>
<text x="492.4" y="365.48" font-size="7.4" font-weight="bold" text-anchor="end" stroke="#000" stroke-width="0.15" letter-spacing="0.15">2000</text>
<text x="492.4" y="388.74" font-size="7.4" font-weight="bold" text-anchor="end" stroke="#000" stroke-width="0.15" letter-spacing="0.15">1000</text>
<text x="492.4" y="412.0" font-size="7.4" font-weight="bold" text-anchor="end" stroke="#000" stroke-width="0.15" letter-spacing="0.15">0</text>
<text x="495.0" y="417.9" font-size="7.3" font-weight="normal" text-anchor="middle" stroke="#000" stroke-width="0.25" letter-spacing="0.5">0</text>
<text x="540.8" y="417.9" font-size="7.3" font-weight="normal" text-anchor="middle" stroke="#000" stroke-width="0.25" letter-spacing="0.5">20</text>
<text x="587.1999999999999" y="417.9" font-size="7.3" font-weight="normal" text-anchor="middle" stroke="#000" stroke-width="0.25" letter-spacing="0.5">40</text>
<text x="633.6" y="417.9" font-size="7.3" font-weight="normal" text-anchor="middle" stroke="#000" stroke-width="0.25" letter-spacing="0.5">60</text>
<text x="680.0" y="417.9" font-size="7.3" font-weight="normal" text-anchor="middle" stroke="#000" stroke-width="0.25" letter-spacing="0.5">80</text>
<text x="587.5" y="429.5" font-size="8.8" font-weight="bold" text-anchor="middle" stroke="#000" stroke-width="0.3" letter-spacing="0.35">Panbio NS1 Ag value</text>
<text x="0" y="0" font-size="8.8" font-weight="bold" text-anchor="middle" stroke="#000" stroke-width="0.3" transform="translate(471.7,349.5) rotate(-90)">Lowest neutrophil count</text>
<circle cx="499.1" cy="320.7" r="1.2"/><circle cx="499.1" cy="331.8" r="1.2"/><circle cx="505.6" cy="342.1" r="1.2"/><circle cx="549.5" cy="349.1" r="1.2"/><circle cx="502.7" cy="363.3" r="1.2"/><circle cx="514.6" cy="373.6" r="1.2"/><circle cx="504.3" cy="379.6" r="1.2"/><circle cx="508.7" cy="379.6" r="1.2"/><circle cx="506.6" cy="382.2" r="1.2"/><circle cx="501.7" cy="386.6" r="1.2"/><circle cx="534.5" cy="384.0" r="1.2"/><circle cx="510.0" cy="393.5" r="1.2"/><circle cx="549.6" cy="349.5" r="1.2"/><circle cx="579.9" cy="361.3" r="1.2"/><circle cx="589.4" cy="373.3" r="1.2"/><circle cx="561.3" cy="379.4" r="1.2"/><circle cx="559.1" cy="382.4" r="1.2"/><circle cx="534.6" cy="384.6" r="1.2"/><circle cx="594.9" cy="380.8" r="1.2"/><circle cx="599.0" cy="379.9" r="1.2"/><circle cx="593.7" cy="387.1" r="1.2"/><circle cx="596.9" cy="393.7" r="1.2"/><circle cx="595.7" cy="398.2" r="1.2"/><circle cx="597.9" cy="397.9" r="1.2"/><circle cx="590.2" cy="400.7" r="1.2"/><circle cx="580.1" cy="361.3" r="1.2"/><circle cx="613.7" cy="354.6" r="1.2"/><circle cx="605.7" cy="356.9" r="1.2"/><circle cx="607.8" cy="364.0" r="1.2"/><circle cx="614.8" cy="362.8" r="1.2"/><circle cx="607.8" cy="368.2" r="1.2"/><circle cx="623.3" cy="370.5" r="1.2"/><circle cx="589.4" cy="373.2" r="1.2"/><circle cx="611.7" cy="377.5" r="1.2"/><circle cx="611.7" cy="380.6" r="1.2"/><circle cx="599.0" cy="379.8" r="1.2"/><circle cx="594.3" cy="381.4" r="1.2"/><circle cx="621.4" cy="379.8" r="1.2"/><circle cx="624.8" cy="379.8" r="1.2"/><circle cx="630.0" cy="377.5" r="1.2"/><circle cx="637.4" cy="377.5" r="1.2"/><circle cx="640.8" cy="379.8" r="1.2"/><circle cx="646.2" cy="379.8" r="1.2"/><circle cx="650.4" cy="380.6" r="1.2"/><circle cx="647.4" cy="383.2" r="1.2"/><circle cx="628.4" cy="383.2" r="1.2"/><circle cx="634.9" cy="384.5" r="1.2"/><circle cx="603.6" cy="385.6" r="1.2"/><circle cx="593.9" cy="386.8" r="1.2"/><circle cx="640.0" cy="386.8" r="1.2"/><circle cx="642.3" cy="388.7" r="1.2"/><circle cx="657.4" cy="386.8" r="1.2"/><circle cx="609.1" cy="388.3" r="1.2"/><circle cx="610.9" cy="389.6" r="1.2"/><circle cx="609.8" cy="391.1" r="1.2"/><circle cx="634.6" cy="391.4" r="1.2"/><circle cx="633.8" cy="393.3" r="1.2"/><circle cx="635.7" cy="395.3" r="1.2"/><circle cx="642.3" cy="391.4" r="1.2"/><circle cx="641.6" cy="393.8" r="1.2"/><circle cx="602.1" cy="393.0" r="1.2"/><circle cx="597.1" cy="393.8" r="1.2"/><circle cx="603.6" cy="394.8" r="1.2"/><circle cx="622.2" cy="397.3" r="1.2"/><circle cx="595.9" cy="398.1" r="1.2"/><circle cx="597.9" cy="398.1" r="1.2"/><circle cx="610.9" cy="398.4" r="1.2"/><circle cx="641.6" cy="398.4" r="1.2"/><circle cx="652.4" cy="398.4" r="1.2"/><circle cx="657.8" cy="396.1" r="1.2"/><circle cx="590.2" cy="400.4" r="1.2"/><circle cx="603.3" cy="403.5" r="1.2"/><circle cx="614.8" cy="403.0" r="1.2"/><circle cx="496.8" cy="338.5" r="1.2"/><circle cx="496.8" cy="343.2" r="1.2"/><circle cx="498.4" cy="345.8" r="1.2"/><circle cx="496.8" cy="347.3" r="1.2"/><circle cx="498.4" cy="349.4" r="1.2"/><circle cx="496.8" cy="351.0" r="1.2"/><circle cx="496.8" cy="354.1" r="1.2"/><circle cx="498.4" cy="356.0" r="1.2"/><circle cx="500.3" cy="354.6" r="1.2"/><circle cx="496.8" cy="358.5" r="1.2"/><circle cx="496.8" cy="362.9" r="1.2"/><circle cx="499.9" cy="365.7" r="1.2"/><circle cx="496.8" cy="366.5" r="1.2"/><circle cx="497.3" cy="368.6" r="1.2"/><circle cx="496.8" cy="369.2" r="1.2"/><circle cx="498.9" cy="372.3" r="1.2"/><circle cx="500.5" cy="374.3" r="1.2"/><circle cx="498.2" cy="374.8" r="1.2"/><circle cx="497.9" cy="377.5" r="1.2"/><circle cx="497.3" cy="380.1" r="1.2"/><circle cx="497.9" cy="381.7" r="1.2"/><circle cx="499.4" cy="383.2" r="1.2"/><circle cx="497.9" cy="384.8" r="1.2"/><circle cx="497.9" cy="386.8" r="1.2"/><circle cx="498.4" cy="388.9" r="1.2"/><circle cx="496.8" cy="389.4" r="1.2"/><circle cx="497.9" cy="395.1" r="1.2"/><circle cx="497.3" cy="397.2" r="1.2"/><circle cx="497.3" cy="399.3" r="1.2"/><circle cx="497.1" cy="401.3" r="1.2"/><circle cx="496.8" cy="402.9" r="1.2"/><circle cx="496.6" cy="360.5" r="1.2"/><circle cx="496.6" cy="371.0" r="1.2"/><circle cx="496.6" cy="376.0" r="1.2"/><circle cx="496.6" cy="383.0" r="1.2"/><circle cx="496.6" cy="392.0" r="1.2"/><circle cx="498.9" cy="332.1" r="1.2"/><circle cx="503.1" cy="363.4" r="1.2"/><circle cx="502.0" cy="386.6" r="1.2"/>
</g>
</svg>
</body></html>
